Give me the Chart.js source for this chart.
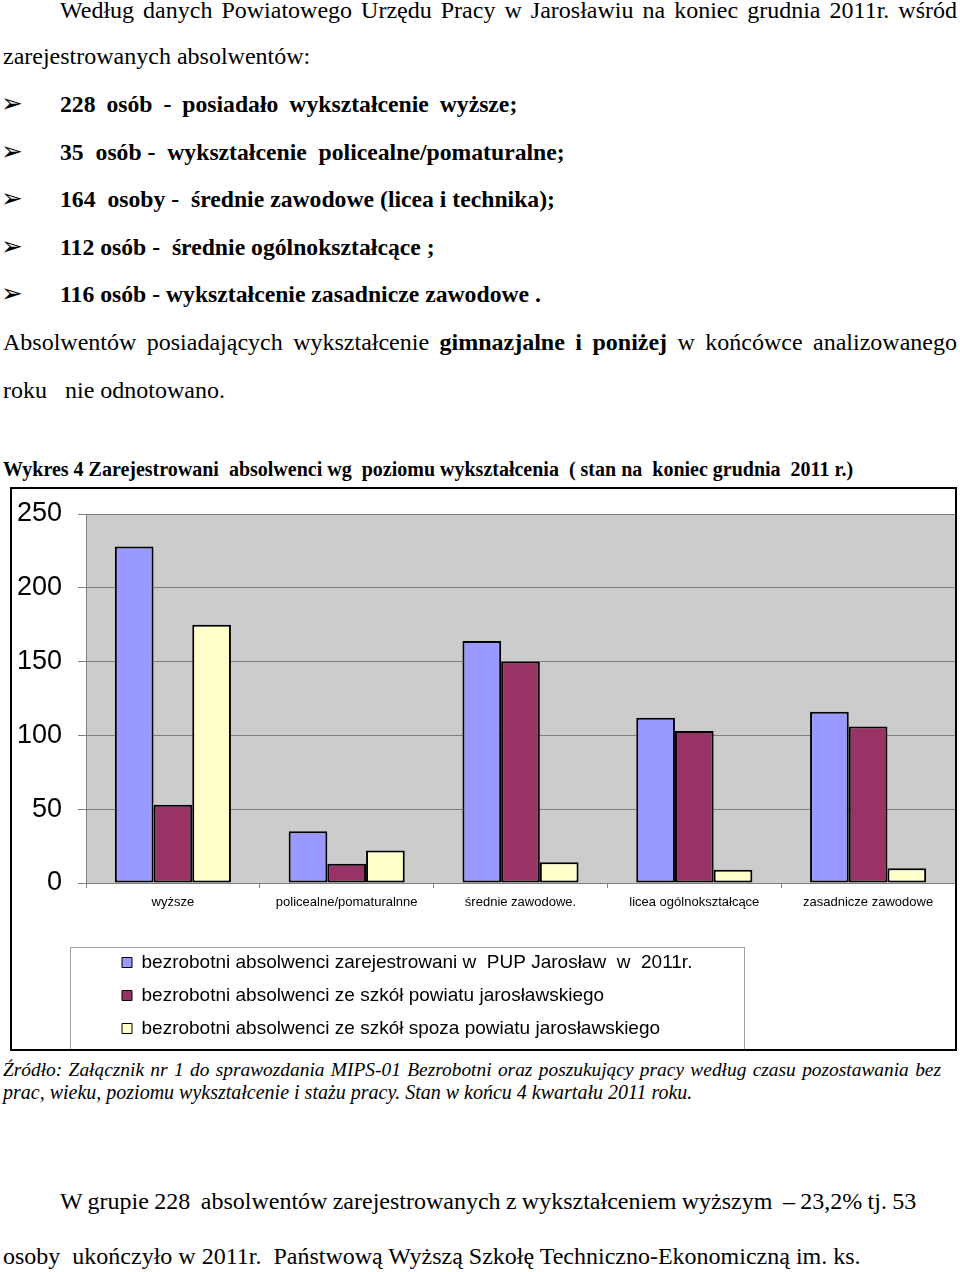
<!DOCTYPE html>
<html lang="pl">
<head>
  <meta charset="UTF-8">
  <title>Wykres 4 - Zarejestrowani absolwenci wg poziomu wykształcenia</title>
  <script src="https://cdn.jsdelivr.net/npm/chart.js"></script>
  <style>
    body { margin: 0; width: 960px; height: 1272px; position: relative; overflow: hidden; background: #fff; color: #000;
           font-family: "Liberation Serif", "Times New Roman", serif; }
    .t { position: absolute; font-size: 24px; line-height: 30px; white-space: pre; }
    .just { white-space: normal; text-align: justify; text-align-last: justify; }
    .item { left: 60px; font-weight: bold; font-size: 23.7px; }
    .arrow { position: absolute; left: 1px; font-family: "DejaVu Sans", sans-serif; font-size: 26px; line-height: 30px; }
    .caption { position: absolute; left: 3px; top: 457px; font-size: 20px; line-height: 24px; font-weight: bold; white-space: pre; }
    .src { position: absolute; left: 3px; font-size: 20px; line-height: 22px; font-style: italic; white-space: pre; }
    #ramka { position: absolute; left: 10px; top: 487px; width: 943px; height: 560px; border: 2px solid #000; }
    #wykres { display: block; }
  </style>
</head>
<body>
  <div class="t just" style="left:60px; top:-5px; width:897px;">Według danych Powiatowego Urzędu Pracy w Jarosławiu na koniec grudnia 2011r. wśród</div>
  <div class="t" style="left:3px; top:41px;">zarejestrowanych absolwentów:</div>

  <div class="arrow" style="top:88px;">➢</div>
  <div class="t item" style="top:89px; word-spacing:5px;">228 osób - posiadało wykształcenie wyższe;</div>
  <div class="arrow" style="top:136px;">➢</div>
  <div class="t item" style="top:137px;">35  osób -  wykształcenie  policealne/pomaturalne;</div>
  <div class="arrow" style="top:183px;">➢</div>
  <div class="t item" style="top:184px;">164  osoby -  średnie zawodowe (licea i technika);</div>
  <div class="arrow" style="top:231px;">➢</div>
  <div class="t item" style="top:232px;">112 osób -  średnie ogólnokształcące ;</div>
  <div class="arrow" style="top:278px;">➢</div>
  <div class="t item" style="top:279px;">116 osób - wykształcenie zasadnicze zawodowe .</div>

  <div class="t just" style="left:3px; top:327px; width:954px;">Absolwentów posiadających wykształcenie <b>gimnazjalne i poniżej</b> w końcówce analizowanego</div>
  <div class="t" style="left:3px; top:375px;">roku   nie odnotowano.</div>

  <div class="caption">Wykres 4 Zarejestrowani  absolwenci wg  poziomu wykształcenia  ( stan na  koniec grudnia  2011 r.)</div>

  <div id="ramka">
    <canvas id="wykres" width="943" height="560"></canvas>
  </div>

  <div class="src just" style="top:1059px; width:938px; font-size:19.4px;">Źródło: Załącznik nr 1 do sprawozdania MIPS-01 Bezrobotni oraz poszukujący pracy według czasu pozostawania bez</div>
  <div class="src" style="top:1081px;">prac, wieku, poziomu wykształcenie i stażu pracy. Stan w końcu 4 kwartału 2011 roku.</div>

  <div class="t" style="left:60px; top:1186px; word-spacing:-0.7px;">W grupie 228  absolwentów zarejestrowanych z wykształceniem wyższym  – 23,2% tj. 53</div>
  <div class="t" style="left:3px; top:1241px;">osoby  ukończyło w 2011r.  Państwową Wyższą Szkołę Techniczno-Ekonomiczną im. ks.</div>

  <script>
    // Dane wykresu
    const kategorie = ['wyższe', 'policealne/pomaturalnne', 'średnie zawodowe.', 'licea ogólnokształcące', 'zasadnicze zawodowe'];
    const nazwySerii = [
      'bezrobotni absolwenci zarejestrowani w  PUP Jarosław  w  2011r.',
      'bezrobotni absolwenci ze szkół powiatu jarosławskiego',
      'bezrobotni absolwenci ze szkół spoza powiatu jarosławskiego'
    ];
    const zarejestrowani = [228, 35, 164, 112, 116];
    const zPowiatu = [53, 13, 150, 103, 106];
    const spozaPowiatu = [175, 22, 14, 9, 10];
    const osY = [0, 50, 100, 150, 200, 250];
    const kolory = ['#9999ff', '#993366', '#ffffcc'];

    const czcionka = 'Liberation Sans, Arial, sans-serif';

    // Szare tło obszaru kreślenia + ramka legendy
    const tloWykresu = {
      id: 'tloWykresu',
      beforeDraw(chart) {
        const { ctx, chartArea: a } = chart;
        ctx.save();
        ctx.fillStyle = '#cccccc';
        ctx.fillRect(a.left, a.top, a.right - a.left, a.bottom - a.top);
        ctx.restore();
      },
      afterLayout(chart) {
        // legenda przesunięta w prawo, jak w oryginale
        chart.legend.left = 96;
      },
      afterDraw(chart) {
        const ctx = chart.ctx;
        ctx.save();
        ctx.strokeStyle = '#a0a0a0';
        ctx.lineWidth = 1;
        ctx.strokeRect(58.5, 458.5, 674, 110);
        ctx.restore();
      }
    };

    const dane = {
      labels: kategorie,
      datasets: [zarejestrowani, zPowiatu, spozaPowiatu].map((d, i) => ({
        label: nazwySerii[i],
        data: d,
        backgroundColor: kolory[i],
        borderColor: '#000',
        borderWidth: 2,
        borderSkipped: false,
        barPercentage: 1,
        categoryPercentage: 0.668
      }))
    };

    new Chart(document.getElementById('wykres'), {
      type: 'bar',
      data: dane,
      plugins: [tloWykresu],
      options: {
        responsive: false,
        animation: false,
        layout: { padding: { top: 25, bottom: 1, left: 0, right: 0 } },
        plugins: {
          tooltip: { enabled: false },
          legend: {
            position: 'bottom',
            align: 'start',
            labels: {
              boxWidth: 10,
              boxHeight: 10,
              padding: 14,
              color: '#000',
              font: { family: czcionka, size: 19 },
              generateLabels: chart => Chart.defaults.plugins.legend.labels.generateLabels(chart)
                .map(l => Object.assign(l, { lineWidth: 1 }))
            }
          }
        },
        scales: {
          x: {
            grid: { offset: true, drawOnChartArea: false, tickLength: 5, color: '#808080' },
            border: { color: '#808080' },
            ticks: { color: '#000', font: { family: czcionka, size: 13 }, padding: 7, maxRotation: 0, autoSkip: false },
            afterFit: s => { s.height = 56; }
          },
          y: {
            min: 0,
            max: 250,
            afterBuildTicks: s => { s.ticks = osY.map(v => ({ value: v })); },
            ticks: { color: '#000', font: { family: czcionka, size: 27 }, padding: 16 },
            grid: { color: '#808080', tickLength: 8 },
            border: { color: '#808080' },
            afterFit: s => { s.width = 74; s.paddingTop = 0; s.paddingBottom = 0; }
          }
        }
      }
    });
  </script>
</body>
</html>
